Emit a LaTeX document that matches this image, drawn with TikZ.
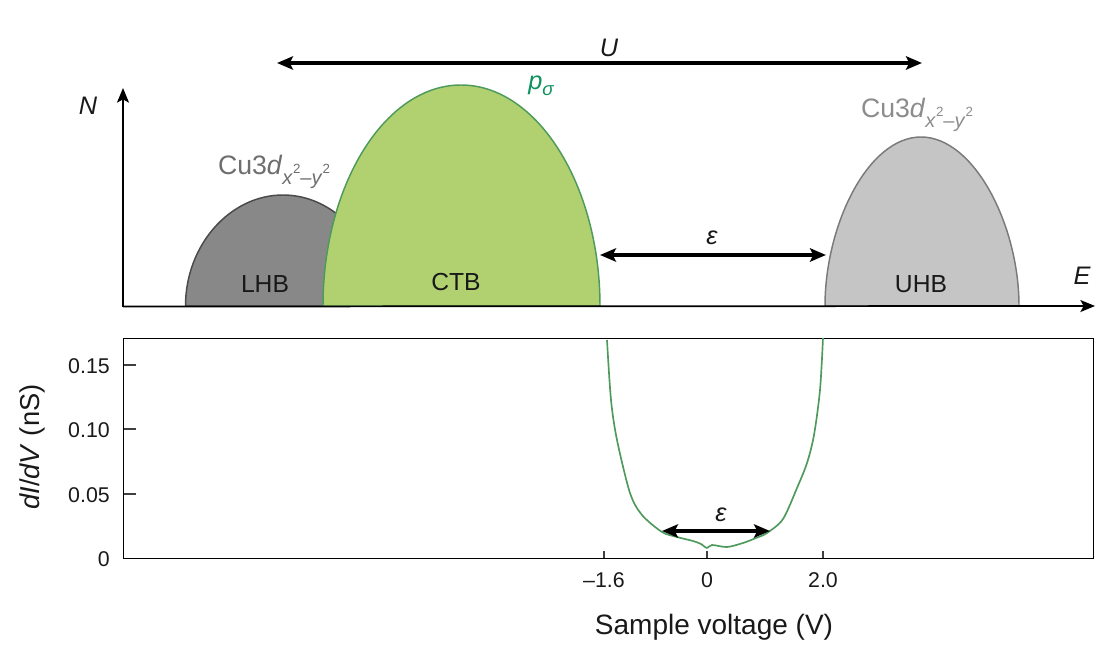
\documentclass[tikz,border=0pt]{standalone}
\usepackage{fontspec}
\setmainfont{Liberation Sans}
\usetikzlibrary{arrows.meta}
\definecolor{ctbfill}{HTML}{B1D170}
\definecolor{ctbline}{HTML}{4E9A5C}
\definecolor{lhbfill}{HTML}{888888}
\definecolor{lhbline}{HTML}{4A4A4A}
\definecolor{uhbfill}{HTML}{C5C5C5}
\definecolor{uhbline}{HTML}{7A7A7A}
\definecolor{pgreen}{HTML}{0F9160}
\definecolor{culow}{HTML}{6E6E6E}
\definecolor{cuhigh}{HTML}{8C8C8C}
\newcommand{\cud}{Cu3\textit{d}\raisebox{-0.36em}{\fontsize{15}{15}\selectfont\textit{x}\raisebox{0.55em}{\fontsize{10}{10}\selectfont 2}–\textit{y}\raisebox{0.55em}{\fontsize{10}{10}\selectfont 2}}}
\tikzset{
  x=0.75pt,y=-0.75pt,
  lbl/.style={inner sep=0pt,font=\fontsize{18.5}{20}\selectfont,text=black!90},
  symlbl/.style={lbl,font=\fontsize{19}{20}\selectfont\itshape},
  culbl/.style={lbl,font=\fontsize{20}{22}\selectfont},
  ticklbl/.style={lbl,font=\fontsize{16}{18}\selectfont},
  axisline/.style={line width=1.3pt,black,-{Stealth[length=11pt,width=9pt,inset=2.5pt]}},
  gaparrow/.style={line width=2.4pt,black,{Stealth[length=12pt,width=10pt,inset=2.5pt]}-{Stealth[length=12pt,width=10pt,inset=2.5pt]}},
  band/.style={line width=1.1pt},
  tickmark/.style={line width=0.8pt,black!75},
}
\begin{document}
\begin{tikzpicture}
\useasboundingbox (0,0) rectangle (1118,649);
\coordinate (orig) at (123,306.5);
\coordinate (ytip) at (123,88);
\coordinate (xtip) at (1095,306);
\coordinate (uL) at (277,63);
\coordinate (uR) at (922,63);
\coordinate (eL) at (600,255);
\coordinate (eR) at (826,255);
\coordinate (e2L) at (662,531);
\coordinate (e2R) at (770,531);
% bands
\draw[band,fill=lhbfill,draw=lhbline] (185.5,306) .. controls (185.5,245) and (230,195) .. (283,195) .. controls (336,195) and (380,245) .. (380,306) -- cycle;
\draw[band,fill=ctbfill,draw=ctbline] (323,306) .. controls (323,185) and (385,85) .. (461,85) .. controls (537,85) and (600,185) .. (600,306) -- cycle;
\draw[band,fill=uhbfill,draw=uhbline] (825,306) .. controls (825,225) and (868,137) .. (921,137) .. controls (974,137) and (1019,225) .. (1019,306) -- cycle;
% axes
\draw[axisline] (orig) -- (ytip);
\draw[axisline] (orig) -- (xtip);
% gap arrows
\draw[gaparrow] (uL) -- (uR);
\draw[gaparrow] (eL) -- (eR);
% panel
\draw[line width=0.75pt,black] (123.5,338) rectangle (1093,558);
\foreach \y in {365,429,494} \draw[tickmark] (123.5,\y) -- (135.5,\y);
\foreach \x in {604,707,823} \draw[tickmark] (\x,558) -- (\x,551);
% curve
\draw[line width=1.25pt,ctbline,line join=round] plot[smooth,tension=0.5] coordinates {
(607,340) (611,400) (617,440) (630,493) (642,515) (662,532) (677,537) (693,541) (701,544) (707,548) (712,545) (727,547) (743,543) (756,538) (767,533) (783,519) (797,488) (807,463) (814,435) (820,390) (823,338)};
\draw[gaparrow] (e2L) -- (e2R);
% labels
\node[symlbl] (nU) at (609,47.5) {U};
\node[symlbl] (nN) at (88,106) {N};
\node[symlbl] (nE) at (1082,276) {E};
\node[symlbl,text=pgreen] (np) at (541,86) {p\raisebox{-0.25em}{\fontsize{14}{14}\selectfont σ}};
\node[culbl,text=culow] (ncu1) at (274,172) {\cud};
\node[culbl,text=cuhigh] (ncu2) at (917,115) {\cud};
\node[lbl] (nL) at (265,284) {LHB};
\node[lbl] (nC) at (456,282) {CTB};
\node[lbl] (nUH) at (921,284) {UHB};
\node[symlbl] (ne1) at (712,238) {ε};
\node[symlbl] (ne2) at (721,515) {ε};
\node[ticklbl,anchor=east] (y15) at (110,366) {0.15};
\node[ticklbl,anchor=east] (y10) at (110,430) {0.10};
\node[ticklbl,anchor=east] (y05) at (110,495) {0.05};
\node[ticklbl,anchor=east] (y00) at (110,559) {0};
\node[ticklbl] (x16) at (604,580) {–1.6};
\node[ticklbl] (x0) at (707,580) {0};
\node[ticklbl] (x2) at (823,580) {2.0};
\node[lbl,font=\fontsize{21}{23}\selectfont] (xl) at (714,627) {Sample voltage (V)};
\node[lbl,rotate=90,font=\fontsize{20.5}{22}\selectfont] (yl) at (32,447) {\textit{dI}/\textit{dV} (nS)};
\end{tikzpicture}
\end{document}
